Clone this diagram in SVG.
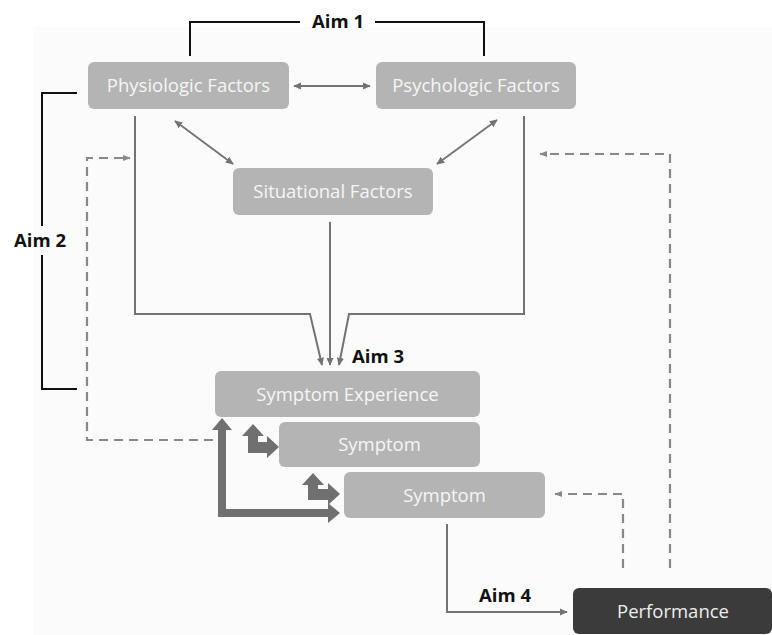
<svg xmlns="http://www.w3.org/2000/svg" width="772" height="635" viewBox="0 0 772 635">
<style>
.box{fill:#b4b4b4}
.lbl{font-family:"Open Sans","Liberation Sans",sans-serif;font-size:18.5px;fill:#f6f6f6;text-anchor:middle}
.aim{font-family:"Open Sans","Liberation Sans",sans-serif;font-size:18.5px;font-weight:bold;fill:#111}
.br{fill:none;stroke:#111;stroke-width:2}
.ln{fill:none;stroke:#737373;stroke-width:2}
.ds{fill:none;stroke:#888;stroke-width:2.2;stroke-dasharray:9,6}
.thick{fill:#707070}
</style>
<defs>
<marker id="ah" viewBox="0 0 10 10" refX="9" refY="5" markerWidth="8" markerHeight="8" orient="auto-start-reverse" markerUnits="userSpaceOnUse">
<path d="M0,0.5 L10,5 L0,9.5 Z" fill="#737373"/>
</marker>
<marker id="ahd" viewBox="0 0 10 10" refX="9" refY="5" markerWidth="8" markerHeight="8" orient="auto" markerUnits="userSpaceOnUse">
<path d="M0,1 L10,5 L0,9 Z" fill="#888"/>
</marker>
</defs>
<rect x="0" y="0" width="772" height="635" fill="#ffffff"/>
<rect x="33" y="27" width="739" height="608" fill="#fbfbfb"/>

<g id="connectors">
<path class="br" d="M190,56 V22 H300"/>
<path class="br" d="M375,22 H484 V56"/>
<path class="br" d="M77,93 H42 V226"/>
<path class="br" d="M42,255 V389 H77"/>
<line class="ln" x1="294" y1="86" x2="370" y2="86" marker-start="url(#ah)" marker-end="url(#ah)" style="stroke-width:1.8"/>
<line class="ln" x1="175" y1="121" x2="233" y2="164" marker-start="url(#ah)" marker-end="url(#ah)" style="stroke-width:1.8"/>
<line class="ln" x1="497" y1="120" x2="437" y2="164" marker-start="url(#ah)" marker-end="url(#ah)" style="stroke-width:1.8"/>
<path class="ln" d="M135,116 V314 H310 L322,365" marker-end="url(#ah)"/>
<path class="ln" d="M330,222 V365" marker-end="url(#ah)"/>
<path class="ln" d="M524,116 V314 H349 L339,365" marker-end="url(#ah)"/>
<path class="ln" d="M447,524 V612 H567" marker-end="url(#ah)"/>
<path class="ds" d="M213,440 H87 V158 H130" marker-end="url(#ahd)"/>
<path class="ds" d="M670,568 V154 H540" marker-end="url(#ahd)"/>
<path class="ds" d="M623,568 V494 H555" marker-end="url(#ahd)"/>
<path class="thick" d="M218,517 V430 H212 L222,418 L232,430 H226 V509 H328 V503 L340,513 L328,523 V517 Z"/>
<path class="thick" d="M248,453 V436 H242 L253,424 L264,436 H258 V442 H267 V436 L279,447 L267,458 V453 Z"/>
<path class="thick" d="M308,500 V485 H302 L313,473 L324,485 H318 V489 H328 V483 L340,494 L328,505 V500 Z"/>
</g>

<g id="aim1"><text class="aim" x="338" y="28" text-anchor="middle">Aim 1</text></g>
<g id="aim2"><text class="aim" x="40" y="247" text-anchor="middle">Aim 2</text></g>
<g id="aim3"><text class="aim" x="352" y="363">Aim 3</text></g>
<g id="aim4"><text class="aim" x="479" y="602">Aim 4</text></g>

<g id="physiologic"><rect class="box" x="88" y="62" width="201" height="47" rx="6"/><text class="lbl" x="188.5" y="92">Physiologic Factors</text></g>
<g id="psychologic"><rect class="box" x="376" y="62" width="200" height="47" rx="6"/><text class="lbl" x="476" y="92">Psychologic Factors</text></g>
<g id="situational"><rect class="box" x="233" y="168" width="200" height="47" rx="6"/><text class="lbl" x="333" y="198">Situational Factors</text></g>
<g id="symptom-experience"><rect class="box" x="215" y="371" width="265" height="46" rx="6"/><text class="lbl" x="347.5" y="401">Symptom Experience</text></g>
<g id="symptom1"><rect class="box" x="279" y="422" width="201" height="45" rx="6"/><text class="lbl" x="379.5" y="451">Symptom</text></g>
<g id="symptom2"><rect class="box" x="344" y="472" width="201" height="46" rx="6"/><text class="lbl" x="444.5" y="502">Symptom</text></g>
<g id="performance"><rect x="573" y="588" width="199" height="46" rx="6" fill="#3b3b3b"/><text class="lbl" x="673" y="618" style="fill:#eeeeee">Performance</text></g>
</svg>
